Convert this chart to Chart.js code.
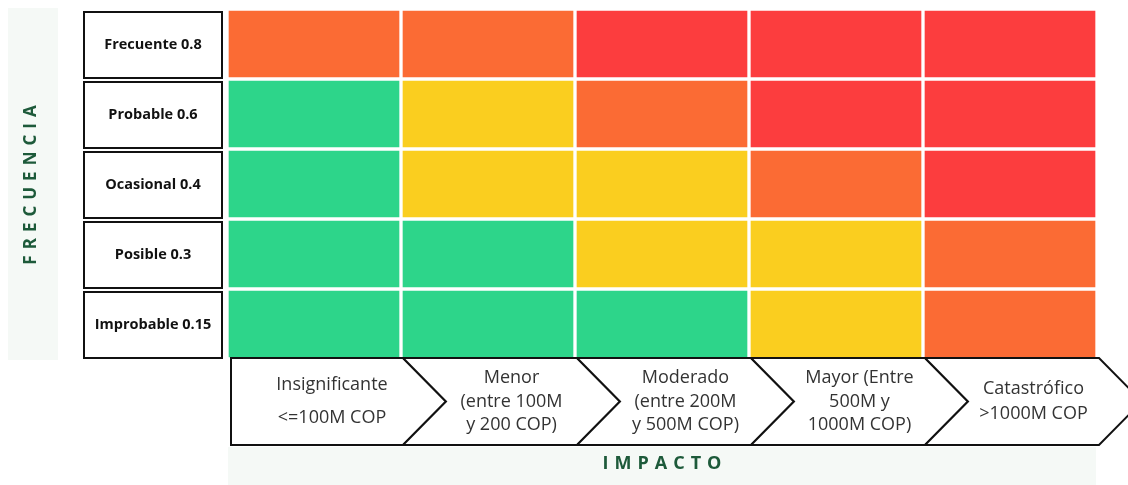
<!DOCTYPE html>
<html>
<head>
<meta charset="utf-8">
<script src="https://cdn.jsdelivr.net/npm/chart.js@4/dist/chart.umd.min.js"></script>
<style>
  html, body { margin: 0; padding: 0; background: #ffffff; }
  canvas { display: block; }
</style>
</head>
<body>
<canvas id="matrix" width="1128" height="485"></canvas>
<script>
// impact columns (left to right), one array of lines per chevron
const impactLabels = [
    ["Insignificante", "<=100M COP"],
    ["Menor", "(entre 100M", "y 200 COP)"],
    ["Moderado", "(entre 200M", "y 500M COP)"],
    ["Mayor (Entre", "500M y", "1000M COP)"],
    ["Catastrófico", ">1000M COP"]
];

// frequency rows, bottom to top
const frequencyLabels = ["Improbable 0.15", "Posible 0.3", "Ocasional 0.4", "Probable 0.6", "Frecuente 0.8"];

// risk level per cell: 1 bajo, 2 medio, 3 alto, 4 extremo
const riskImprobable = [1, 1, 1, 2, 3];
const riskPosible    = [1, 1, 2, 2, 3];
const riskOcasional  = [1, 2, 2, 3, 4];
const riskProbable   = [1, 2, 3, 4, 4];
const riskFrecuente  = [3, 3, 4, 4, 4];

const cellHeight = [1, 1, 1, 1, 1];

const levelColors = ["#2DD58A", "#FACE1F", "#FB6B34", "#FC3D3E"];

const rows = [riskImprobable, riskPosible, riskOcasional, riskProbable, riskFrecuente];

const GREEN_TEXT = "#1d5a3a";
const BAND_BG = "#f5f9f6";

const decorations = {
    id: "decorations",
    beforeDraw(chart) {
        const ctx = chart.ctx;
        const x = chart.scales.x;
        ctx.save();
        // soft background bands behind the axis titles
        ctx.fillStyle = BAND_BG;
        ctx.fillRect(8, 8, 50, 352);
        ctx.fillRect(x.left + 1, 447, x.right - x.left - 2, 38);
        ctx.restore();
    },
    afterDraw(chart) {
        const ctx = chart.ctx;
        const x = chart.scales.x;
        const y = chart.scales.y;
        ctx.save();

        // row label boxes
        frequencyLabels.forEach((label, k) => {
            const bottom = y.getPixelForValue(k);
            const top = y.getPixelForValue(k + 1);
            ctx.fillStyle = "#ffffff";
            ctx.fillRect(84, top + 3, 138, bottom - top - 4);
            ctx.strokeStyle = "#111111";
            ctx.lineWidth = 2;
            ctx.strokeRect(84, top + 3, 138, bottom - top - 4);
            ctx.fillStyle = "#111111";
            ctx.font = "bold 14.5px 'Open Sans'";
            ctx.textAlign = "center";
            ctx.textBaseline = "middle";
            ctx.fillText(label, 153, (top + bottom) / 2 + 1);
        });

        // impact chevrons
        const pitch = (x.right - x.left) / impactLabels.length;
        const top = 358, bot = 445, mid = (top + bot) / 2, depth = 43;
        impactLabels.forEach((lines, i) => {
            const l = x.getPixelForValue(i) - pitch / 2 + (i === 0 ? 4 : 2);
            const r = x.getPixelForValue(i) + pitch / 2 + 2;
            ctx.beginPath();
            ctx.moveTo(l, top);
            ctx.lineTo(r, top);
            ctx.lineTo(r + depth, mid);
            ctx.lineTo(r, bot);
            ctx.lineTo(l, bot);
            if (i > 0) ctx.lineTo(l + depth, mid);
            ctx.closePath();
            ctx.fillStyle = "#ffffff";
            ctx.fill();
            ctx.strokeStyle = "#111111";
            ctx.lineWidth = 2;
            ctx.stroke();

            const cx = i === 0 ? (l + r) / 2 + 15 : (l + depth + r) / 2;
            const gap = i === 0 ? 33 : (lines.length === 2 ? 25 : 23.5);
            ctx.fillStyle = "#333333";
            ctx.font = "18px 'Open Sans'";
            ctx.textAlign = "center";
            ctx.textBaseline = "middle";
            lines.forEach((t, j) => {
                ctx.fillText(t, cx, mid + (j - (lines.length - 1) / 2) * gap);
            });
        });

        // axis titles
        ctx.fillStyle = GREEN_TEXT;
        ctx.font = "bold 18px 'Open Sans'";
        ctx.letterSpacing = "6px";
        ctx.textAlign = "center";
        ctx.textBaseline = "middle";
        ctx.fillText("IMPACTO", (x.left + x.right) / 2 + 3, 464);

        ctx.font = "bold 17px 'Open Sans'";
        ctx.translate(31, 185);
        ctx.rotate(-Math.PI / 2);
        ctx.fillText("FRECUENCIA", 3, 0);
        ctx.restore();
    }
};

const datasets = rows.map((row, k) => ({
    label: frequencyLabels[k],
    data: cellHeight,
    backgroundColor: row.map(level => levelColors[level - 1]),
    borderColor: "#ffffff",
    borderWidth: 2,
    borderSkipped: false,
    barPercentage: 1,
    categoryPercentage: 1
}));

new Chart(document.getElementById("matrix"), {
    type: "bar",
    data: {
        labels: impactLabels.map(l => l.join(" ")),
        datasets: datasets
    },
    options: {
        responsive: false,
        animation: false,
        layout: { padding: { left: 227, right: 31, top: 9, bottom: 126 } },
        scales: {
            x: { stacked: true, display: false },
            y: { stacked: true, display: false, min: 0, max: 5 }
        },
        plugins: {
            legend: { display: false },
            tooltip: { enabled: false }
        }
    },
    plugins: [decorations]
});
</script>
</body>
</html>
